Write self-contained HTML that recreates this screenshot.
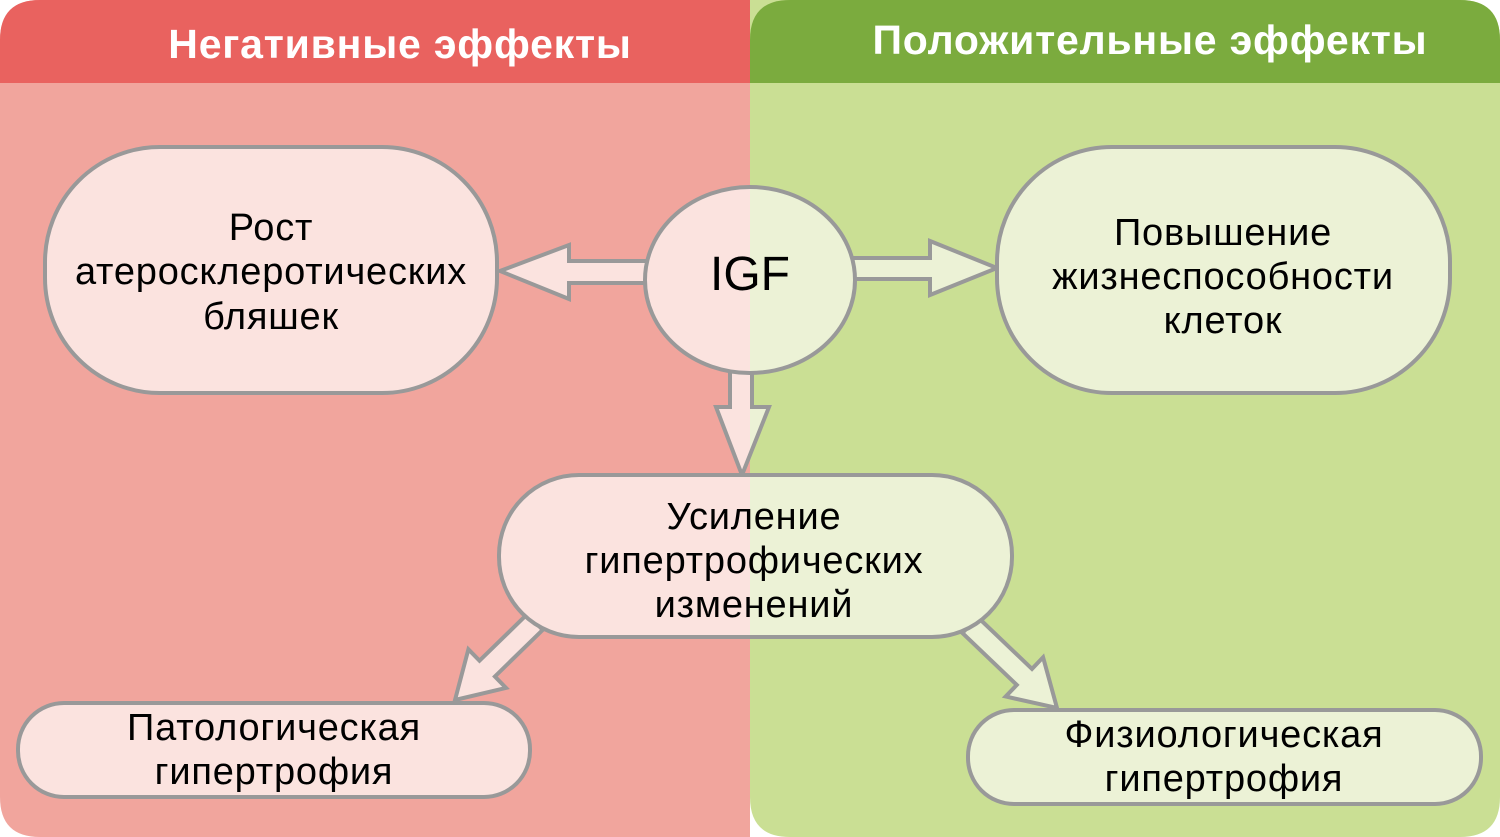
<!DOCTYPE html>
<html><head><meta charset="utf-8"><style>
html,body{margin:0;padding:0;background:#fff;}
svg{display:block;}
text{font-family:"Liberation Sans",sans-serif;}
</style></head><body>
<svg width="1500" height="837" viewBox="0 0 1500 837" xmlns="http://www.w3.org/2000/svg">
<defs>
<linearGradient id="g" gradientUnits="userSpaceOnUse" x1="0" y1="0" x2="1500" y2="0">
<stop offset="0.5" stop-color="#fbe3df"/><stop offset="0.5" stop-color="#ecf2d6"/>
</linearGradient>
</defs>
<path d="M40 0 H750 V837 H40 Q0 837 0 797 V40 Q0 0 40 0Z" fill="#f1a59d"/>
<path d="M40 0 H750 V83 H0 V40 Q0 0 40 0Z" fill="#e9625f"/>
<path d="M750 0 H1460 Q1500 0 1500 40 V797 Q1500 837 1460 837 H790 Q750 837 750 797Z" fill="#cadf94"/>
<path d="M790 0 H1460 Q1500 0 1500 40 V83 H750 V40 Q750 0 790 0Z" fill="#7bab3e"/>
<text x="400" y="58" font-size="41" font-weight="bold" fill="#fff" text-anchor="middle" letter-spacing="0.8">Негативные эффекты</text>
<text x="1150" y="54" font-size="41" font-weight="bold" fill="#fff" text-anchor="middle" letter-spacing="0.8">Положительные эффекты</text>

<g stroke="#999" stroke-width="4" fill="url(#g)" stroke-linejoin="miter">
<polygon points="660,261 569,261 569,245 500,271 569,299 569,283 660,283"/>
<polygon points="840,258 930,258 930,241 997,268 930,295 930,279 840,279"/>
<polygon points="730,350 730,407 716,407 742,475 769,407 752,407 752,350"/>
<polygon points="527.3,614.1 479.5,660.7 468.4,649.3 455,700 506,687.9 494.9,676.5 542.7,629.9"/>
<polygon points="977.6,617 1032,668.9 1043.1,657.3 1057,708 1005.7,696.5 1016.8,684.9 962.4,633"/>
<rect x="45" y="147" width="452" height="246" rx="115" ry="115"/>
<rect x="997" y="147" width="453" height="246" rx="115" ry="115"/>
<ellipse cx="750" cy="280" rx="105" ry="93"/>
<rect x="499" y="475" width="513" height="162" rx="80" ry="80"/>
<rect x="18" y="703" width="512" height="94" rx="46" ry="46"/>
<rect x="968" y="710" width="513" height="94" rx="46" ry="46"/>
</g>
<g font-size="38" fill="#000" text-anchor="middle" letter-spacing="0.8">
<text x="271" y="240">Рост</text>
<text x="271" y="284">атеросклеротических</text>
<text x="271" y="329">бляшек</text>
<text x="1223" y="245">Повышение</text>
<text x="1223" y="289">жизнеспособности</text>
<text x="1223" y="333">клеток</text>
<text x="750" y="290" font-size="48" letter-spacing="0">IGF</text>
<text x="754" y="529">Усиление</text>
<text x="754" y="573">гипертрофических</text>
<text x="754" y="617">изменений</text>
<text x="274" y="740">Патологическая</text>
<text x="274" y="784">гипертрофия</text>
<text x="1224" y="747">Физиологическая</text>
<text x="1224" y="791">гипертрофия</text>
</g>
</svg>
</body></html>
